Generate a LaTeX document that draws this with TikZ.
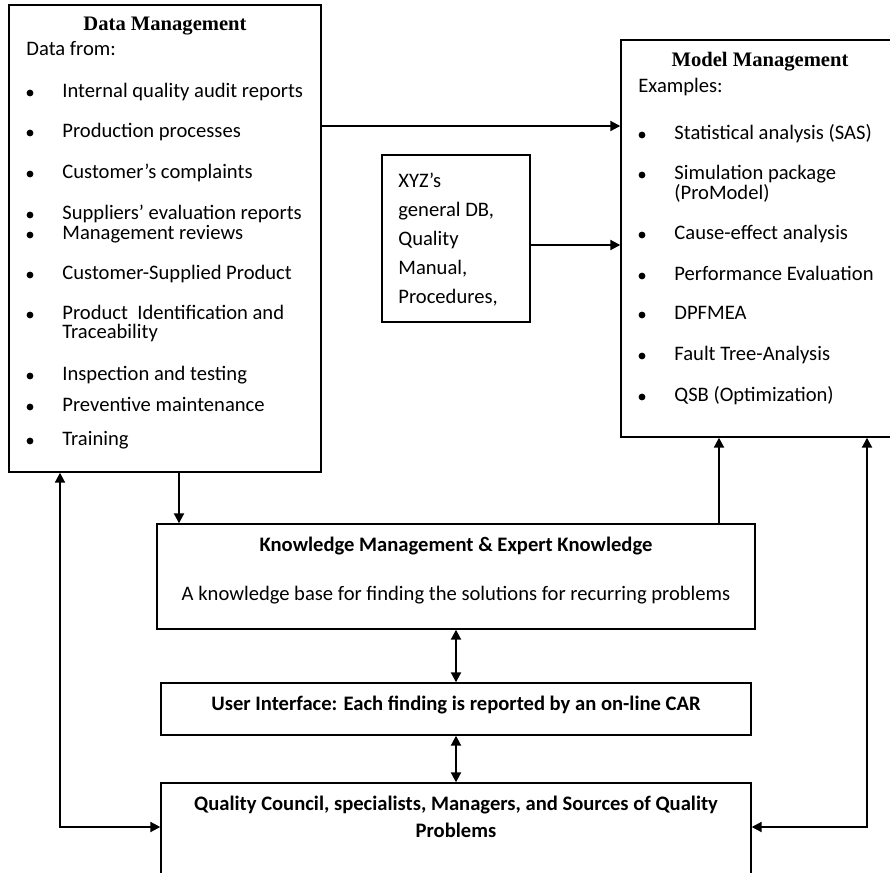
\documentclass[tikz,border=0pt]{standalone}
\usepackage{fontspec}
\setmainfont{Carlito}
\newfontfamily\hdfont{Liberation Serif}
\usetikzlibrary{arrows.meta, calc}
\tikzset{
  box/.style={draw, line width=0.7pt, inner sep=0pt},
  txt/.style={anchor=mid west, inner sep=0pt, font=\fontsize{10.3}{12}\selectfont},
  ctxt/.style={txt, anchor=mid},
  btxt/.style={ctxt, font=\fontsize{10.3}{12}\selectfont\bfseries},
  hd/.style={ctxt, font=\fontsize{10.3}{12}\selectfont\hdfont\bfseries},
  arr/.style={-{Triangle[length=5pt, width=5pt]}, line width=1pt},
  darr/.style={{Triangle[length=5pt, width=5pt]}-{Triangle[length=5pt, width=5pt]}, line width=1pt}
}
% bullet item: name, bullet x, text x, y, text
\newcommand{\bitem}[5]{\fill (#2,#4) circle[radius=1.7pt]; \node[txt] (#1) at (#3,#4) {#5};}

\begin{document}
\begin{tikzpicture}[x=0.5pt, y=-0.5pt]
  \useasboundingbox (0,0) rectangle (890,873);
  \clip (0,0) rectangle (890,873);

  % boxes
  \node[box, minimum width=156pt, minimum height=233.5pt] (dm) at (165,238.5) {};
  \node[box, minimum width=139pt, minimum height=198.5pt] (mm) at (760,238.5) {};
  \node[box, minimum width=74pt, minimum height=83.5pt] (db) at (456,238.5) {};
  \node[box, minimum width=299pt, minimum height=52.5pt] (km) at (456,576.5) {};
  \node[box, minimum width=295pt, minimum height=26pt] (ui) at (456,709) {};
  \node[box, minimum width=295pt, minimum height=48.5pt] (qc) at (456,831.5) {};

  % data management
  \node[hd] (dmtitle) at (165,26) {Data Management};
  \node[txt] (dmfrom) at (26,51) {Data from:};
  \bitem{d1}{30}{62}{93}{Internal quality audit reports}
  \bitem{d2}{30}{62}{133}{Production processes}
  \bitem{d3}{30}{62}{174}{Customer’s complaints}
  \bitem{d4}{30}{62}{215}{Suppliers’ evaluation reports}
  \bitem{d5}{30}{62}{235}{Management reviews}
  \bitem{d6}{30}{62}{275}{Customer-Supplied Product}
  \bitem{d7}{30}{62}{315}{Product\ \ Identification and}
  \node[txt] (d7b) at (62,334) {Traceability};
  \bitem{d8}{30}{62}{376}{Inspection and testing}
  \bitem{d9}{30}{62}{407}{Preventive maintenance}
  \bitem{d10}{30}{62}{441}{Training}

  % model management
  \node[hd] (mmtitle) at (760,62) {Model Management};
  \node[txt] (mmex) at (638,88) {Examples:};
  \bitem{m1}{642}{674}{135}{Statistical analysis (SAS)}
  \bitem{m2}{642}{674}{175}{Simulation package}
  \node[txt] (m2b) at (674,195) {(ProModel)};
  \bitem{m3}{642}{674}{235}{Cause-effect analysis}
  \bitem{m4}{642}{674}{276}{Performance Evaluation}
  \bitem{m5}{642}{674}{315}{DPFMEA}
  \bitem{m6}{642}{674}{356}{Fault Tree-Analysis}
  \bitem{m7}{642}{674}{397}{QSB (Optimization)}

  % general database
  \node[txt] (db1) at (398,183) {XYZ’s};
  \node[txt] (db2) at (398,212) {general DB,};
  \node[txt] (db3) at (398,241) {Quality};
  \node[txt] (db4) at (398,270) {Manual,};
  \node[txt] (db5) at (398,299) {Procedures,};

  % lower boxes
  \node[btxt] (kmtitle) at (456,547) {Knowledge Management \& Expert Knowledge};
  \node[ctxt] (kmtext) at (456,596) {A knowledge base for finding the solutions for recurring problems};
  \node[btxt] (uitext) at (456,706) {User Interface: Each finding is reported by an on-line CAR};
  \node[btxt] (qctitle) at (456,806) {Quality Council, specialists, Managers, and Sources of Quality};
  \node[btxt] (qctitle2) at (456,833) {Problems};

  % connectors
  \coordinate (dmout) at (0,126);
  \coordinate (dbout) at (0,245);
  \coordinate (dmdown) at (179,0);
  \coordinate (kmup) at (719,0);
  \coordinate (lft) at (60,827);
  \coordinate (rgt) at (867,827);
  \draw[arr] (dm.east |- dmout) -- (mm.west |- dmout);
  \draw[arr] (db.east |- dbout) -- (mm.west |- dbout);
  \draw[arr] (dm.south -| dmdown) -- (km.north -| dmdown);
  \draw[arr] (km.north -| kmup) -- (mm.south -| kmup);
  \draw[darr] (km.south) -- (ui.north);
  \draw[darr] (ui.south) -- (qc.north);
  \draw[darr] (dm.south -| lft) |- (qc.west |- lft);
  \draw[darr] (mm.south -| rgt) |- (qc.east |- rgt);
\end{tikzpicture}
\end{document}
